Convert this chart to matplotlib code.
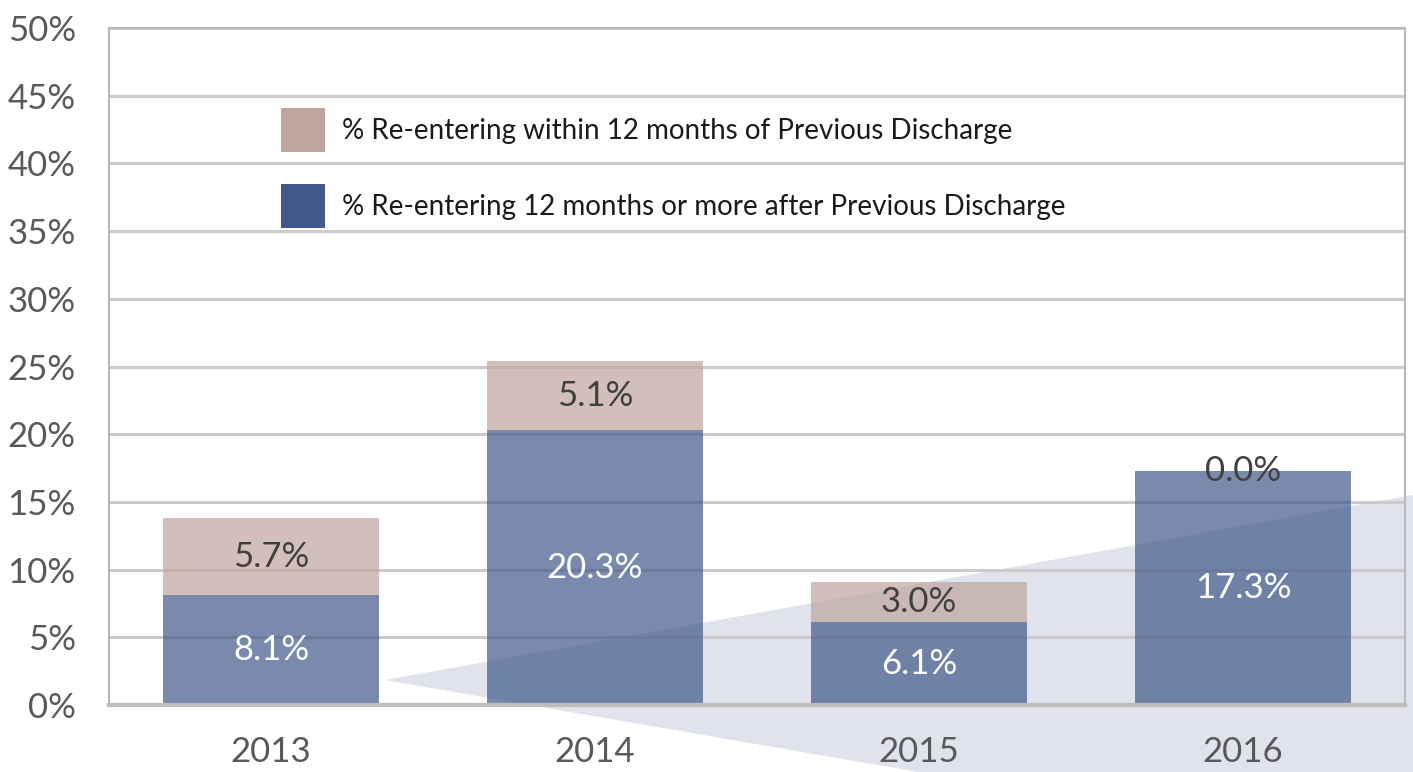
import matplotlib
matplotlib.use("Agg")
import matplotlib.pyplot as plt
from matplotlib.patches import Polygon, Patch

plt.rcParams['font.family'] = ['Lato', 'DejaVu Sans']

years = ["2013", "2014", "2015", "2016"]
after_12 = [8.1, 20.3, 6.1, 17.3]      # blue, bottom
within_12 = [5.7, 5.1, 3.0, 0.0]       # tan, top
y_ticks = [0, 5, 10, 15, 20, 25, 30, 35, 40, 45, 50]

label_within = "% Re-entering within 12 months of Previous Discharge"
label_after = "% Re-entering 12 months or more after Previous Discharge"

blue = "#40588a"
tan = "#bfa59e"
grid_col = "#cbcbcb"
text_col = "#595959"

W, H = 1413, 772
fig = plt.figure(figsize=(W / 100, H / 100), dpi=100)
fig.patch.set_facecolor("white")
ax = fig.add_axes([109 / W, (H - 705) / H, (1405 - 109) / W, (705 - 28) / H])
ax.set_facecolor("none")

# decorative wedge behind the chart (figure pixel coords)
wedge = Polygon([(385 / W, (H - 680) / H), (1.0, (H - 495) / H),
                 (1.0, 0.0), (918 / W, 0.0)],
                closed=True, transform=fig.transFigure,
                facecolor="#e0e3ec", edgecolor="none", zorder=-1)
fig.patches.append(wedge)

x = range(len(years))
for t in y_ticks[1:]:
    ax.axhline(t, color=grid_col, lw=2.2, zorder=0.5)

ax.bar(x, after_12, width=0.665, color=blue, alpha=0.7, zorder=2)
ax.bar(x, within_12, bottom=after_12, width=0.665, color=tan,
       alpha=0.7, zorder=2)

for i, (b, t) in enumerate(zip(after_12, within_12)):
    ax.text(i, b / 2, f"{b:.1f}%", ha="center", va="center",
            fontsize=25, color="white", zorder=3)
    ax.text(i, b + t / 2, f"{t:.1f}%", ha="center", va="center",
            fontsize=25, color="#404040", zorder=3)

ax.set_xlim(-0.5, len(years) - 0.5)
ax.set_ylim(0, 50)
ax.set_yticks(y_ticks)
ax.set_yticklabels([f"{t}%" for t in y_ticks])
ax.set_xticks(list(x))
ax.set_xticklabels(years)
ax.tick_params(axis="y", length=0, pad=24, labelsize=25, labelcolor=text_col)
ax.tick_params(axis="x", length=0, pad=22, labelsize=25, labelcolor=text_col)

for side in ["left", "right", "top"]:
    ax.spines[side].set_color("#b8b8b8")
    ax.spines[side].set_linewidth(1.5)
ax.spines["bottom"].set_color("#bdbdbd")
ax.spines["bottom"].set_linewidth(3)

handles = [Patch(facecolor=tan, edgecolor="none", label=label_within),
           Patch(facecolor=blue, edgecolor="none", label=label_after)]
leg = ax.legend(handles=handles, loc="upper left",
                bbox_to_anchor=(172 / 1296, (705 - 108) / 677),
                frameon=False, fontsize=20, handlelength=1.6, handleheight=2.05,
                handletextpad=0.6, labelspacing=1.17, borderpad=0,
                borderaxespad=0)
for t in leg.get_texts():
    t.set_color("#1a1a1a")

fig.savefig("out.png", dpi=100)
